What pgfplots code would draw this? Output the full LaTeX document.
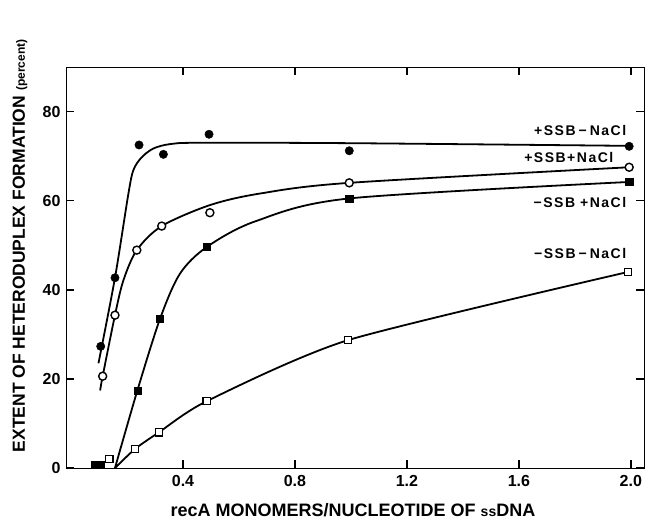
\documentclass[border=0pt]{standalone}
\usepackage{fontspec}
\setmainfont{Liberation Sans}
\usepackage{pgfplots}
\pgfplotsset{compat=1.18}
\newcommand{\lsp}{\kern1.5pt}
\newcommand{\lab}{\fontsize{14}{14}\selectfont\bfseries}
\begin{document}
\begin{tikzpicture}
\path[use as bounding box] (0pt,0pt) rectangle (648pt,521pt);
\begin{axis}[
  at={(66pt,53pt)}, anchor=south west,
  scale only axis, width=578pt, height=401pt,
  xmin=-0.018, xmax=2.047, ymin=0, ymax=90,
  xtick={0.4,0.8,1.2,1.6,2.0}, xticklabels={0.4,0.8,1.2,1.6,2.0},
  ytick={0,20,40,60,80}, yticklabels={0,20,40,60,80},
  major tick length=8pt,
  every tick/.append style={black, line width=1.5pt},
  tick label style={font=\fontsize{16}{16}\selectfont\bfseries},
  xticklabel style={yshift=-4pt},
  yticklabel style={xshift=-2pt},
]
% fitted curves
\addplot[black, line width=1.8pt, smooth, tension=0.5] coordinates {
  (0.098,23.5) (0.157,42.7) (0.205,61.6) (0.223,66.9) (0.252,69.7) (0.294,71.7)
  (0.354,72.7) (0.461,73.0) (1.0,72.9) (2.0,72.3)};
\addplot[black, line width=1.8pt, smooth, tension=0.5] coordinates {
  (0.104,17.4) (0.113,20.6) (0.157,34.3) (0.187,42.1) (0.235,48.9) (0.324,54.3)
  (0.496,59.0) (0.675,61.6) (0.994,64.0) (1.994,67.5)};
\addplot[black, line width=1.8pt, smooth, tension=0.5] coordinates {
  (0.157,0) (0.237,17.4) (0.318,33.5) (0.389,43.6) (0.485,49.6) (0.66,55.4)
  (0.994,60.5) (1.994,64.2)};
\addplot[black, line width=1.8pt, smooth, tension=0.4] coordinates {
  (0.157,0) (0.229,4.3) (0.314,8.0) (0.485,15.0) (0.99,28.7) (1.99,44.0)};
% markers
\addplot[only marks, mark=*, mark size=4.2pt, mark options={fill=black, draw=black}] coordinates {
  (0.106,27.3) (0.157,42.7) (0.243,72.5) (0.330,70.4) (0.493,74.9) (0.994,71.2) (1.994,72.2)};
\addplot[only marks, mark=*, mark size=4pt, mark options={fill=white, draw=black, line width=1.4pt}] coordinates {
  (0.113,20.6) (0.157,34.3) (0.235,48.9) (0.324,54.3) (0.496,57.3) (0.994,64.0) (1.994,67.5)};
\addplot[only marks, mark=square*, mark size=3.6pt, mark options={fill=black, draw=black}] coordinates {
  (0.085,0.8) (0.105,0.8) (0.237,17.4) (0.318,33.5) (0.485,49.6) (0.994,60.5) (1.994,64.2)};
\addplot[only marks, mark=square*, mark size=3.6pt, mark options={fill=white, draw=black, line width=1.4pt}] coordinates {
  (0.137,2.0) (0.229,4.3) (0.314,8.0) (0.485,15.0) (0.990,28.7) (1.990,44.0)};
% curve labels
\node[anchor=east, font=\lab] at (axis cs:1.996,75.8) {+\lsp S\lsp S\lsp B\kern3pt−\kern3pt N\lsp a\lsp C\lsp l};
\node[anchor=east, font=\lab] at (axis cs:1.95,69.6) {+\lsp S\lsp S\lsp B\lsp+\lsp N\lsp a\lsp C\lsp l};
\node[anchor=east, font=\lab] at (axis cs:1.996,59.7) {−\lsp S\lsp S\lsp B\kern5pt+\lsp N\lsp a\lsp C\lsp l};
\node[anchor=east, font=\lab] at (axis cs:1.996,48.2) {−\lsp S\lsp S\lsp B\kern3pt−\kern3pt N\lsp a\lsp C\lsp l};
\end{axis}
\node[font=\fontsize{18}{18}\selectfont\bfseries] at (353pt,11pt) {recA MONOMERS/NUCLEOTIDE OF {\fontsize{14}{14}\selectfont ss}DNA};
\node[rotate=90, font=\fontsize{17.5}{17.5}\selectfont\bfseries] at (20pt,275pt) {EXTENT OF HETERODUPLEX FORMATION {\fontsize{12}{12}\selectfont (percent)}};
\end{tikzpicture}
\end{document}
